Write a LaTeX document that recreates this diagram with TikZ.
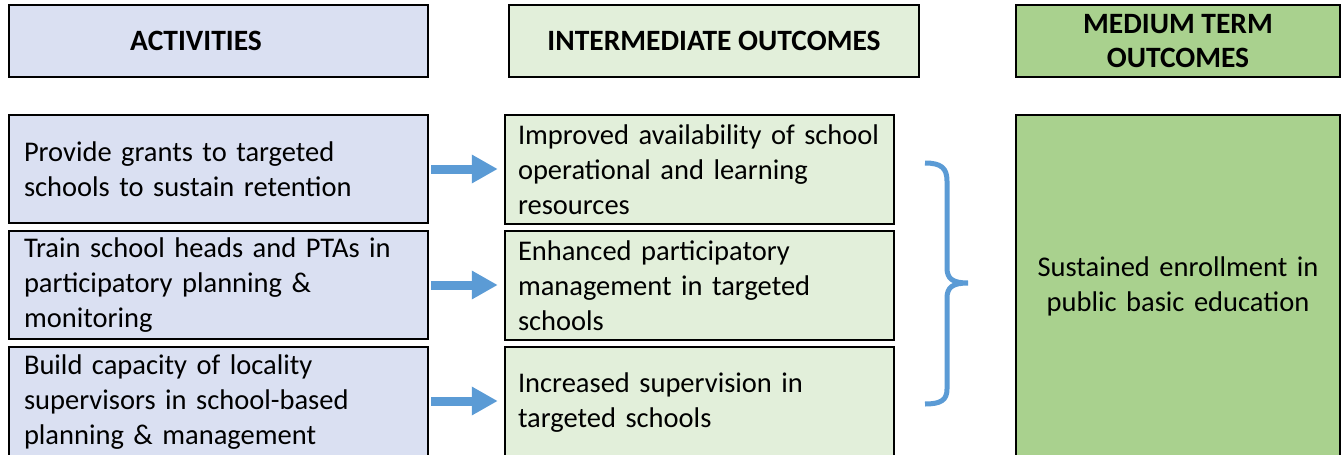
\documentclass[tikz,border=0pt]{standalone}
\usepackage{fontspec}
\setmainfont{Carlito}
\usetikzlibrary{arrows.meta}
\definecolor{actfill}{HTML}{DAE0F2}
\definecolor{intfill}{HTML}{E2EFDA}
\definecolor{medfill}{HTML}{A9D18E}
\definecolor{arrblue}{HTML}{5B9BD5}
\tikzset{
  box/.style={draw=black, line width=2.5pt, rectangle, inner sep=0pt, font=\fontsize{28.5}{35}\selectfont},
  hdrfont/.style={font=\fontsize{29.5}{34.5}\selectfont\bfseries},
  hdr/.style={box, hdrfont, align=center},
  actbox/.style={box, fill=actfill, text width=#1, align=left},
  intbox/.style={box, fill=intfill, text width=#1, align=left},
  arr/.style={draw=arrblue, line width=9pt, -{Triangle[length=26pt,width=27pt]}, shorten <=2pt, shorten >=6pt},
  bracestyle/.style={draw=arrblue, line width=5pt}
}
\begin{document}
\begin{tikzpicture}[x=1pt,y=-1pt]
\useasboundingbox (0,0) rectangle (1342,455);
\clip (0,0) rectangle (1342,455);
% headers
\node[box, fill=actfill, minimum width=419pt, minimum height=72pt] (hA) at (218.5,41) {};
\node[hdrfont] (hAt) at (196,41) {ACTIVITIES};
\node[hdr, fill=intfill, minimum width=410pt, minimum height=72pt] (hI) at (714,41) {INTERMEDIATE OUTCOMES};
\node[hdr, fill=medfill, minimum width=324pt, minimum height=72pt] (hM) at (1178,41) {MEDIUM TERM\\OUTCOMES};
% activities
\node[actbox=389pt, minimum width=419pt, minimum height=108pt] (a1) at (218.5,169) {Provide grants to targeted\\schools to sustain retention};
\node[actbox=389pt, minimum width=419pt, minimum height=108pt] (a2) at (218.5,285) {Train school heads and PTAs in\\participatory planning \&\\monitoring};
\node[actbox=389pt, minimum width=419pt, minimum height=110pt] (a3) at (218.5,402) {Build capacity of locality\\supervisors in school-based\\planning \& management};
% intermediate
\node[intbox=363pt, minimum width=389pt, minimum height=109pt] (i1) at (699.5,169.5) {Improved availability of school\\operational and learning\\resources};
\node[intbox=363pt, minimum width=389pt, minimum height=109pt] (i2) at (699.5,285.5) {Enhanced participatory\\management in targeted\\schools};
\node[intbox=363pt, minimum width=389pt, minimum height=111pt] (i3) at (699.5,402.5) {Increased supervision in\\targeted schools};
% medium
\node[box, fill=medfill, minimum width=324pt, minimum height=343pt, text width=310pt, align=center] (m) at (1178,286.5) {Sustained enrollment in\\public basic education};
% arrows
\draw[arr] (a1.east) -- (a1.east -| i1.west);
\draw[arr] (a2.east) -- (a2.east -| i2.west);
\draw[arr] (a3.east |- 0,401) -- (i3.west |- 0,401);
% brace
\coordinate (bt) at (925,163);
\coordinate (bb) at (925,404);
\coordinate (btip) at (968,283);
\draw[bracestyle] (bt) .. controls (941,163) and (947,168) .. (947,181) -- (947,268)
  .. controls (947,279) and (953,283) .. (btip)
  .. controls (953,283) and (947,287) .. (947,298) -- (947,389)
  .. controls (947,400) and (941,404) .. (bb);
\end{tikzpicture}
\end{document}
